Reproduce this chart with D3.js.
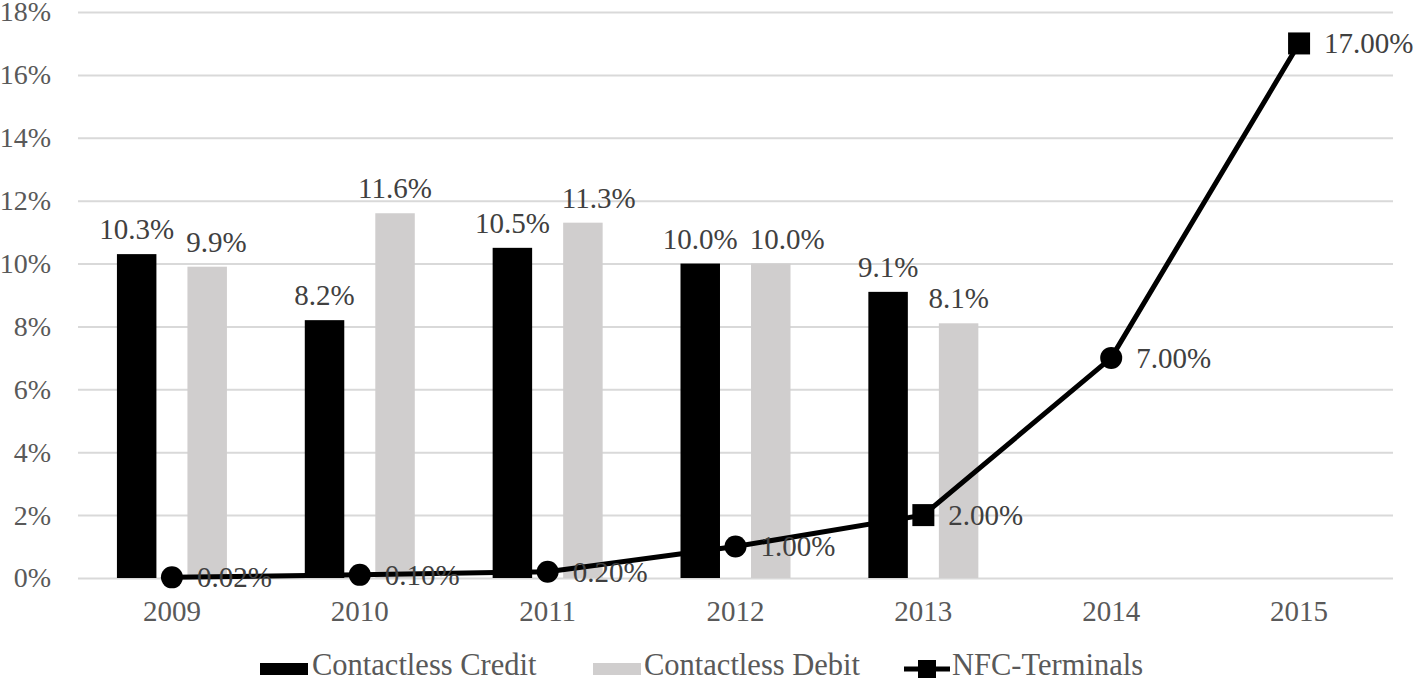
<!DOCTYPE html>
<html>
<head>
<meta charset="utf-8">
<script src="https://cdn.jsdelivr.net/npm/d3@7"></script>
<style>
  html, body { margin: 0; padding: 0; background: #fff; }
  svg { display: block; }
  svg text { font-family: "Liberation Serif", "Times New Roman", serif !important; }
</style>
</head>
<body>
<svg id="chart" width="1413" height="681"></svg>
<script>
// ---- data ----
const years = ["2009", "2010", "2011", "2012", "2013", "2014", "2015"];
const creditValues = [10.3, 8.2, 10.5, 10.0, 9.1, null, null];
const debitValues = [9.9, 11.6, 11.3, 10.0, 8.1, null, null];
const nfcValues = [0.02, 0.10, 0.20, 1.00, 2.00, 7.00, 17.00];
const nfcMarkers = ["circle", "circle", "circle", "circle", "square", "circle", "square"];
const yTicks = [0, 2, 4, 6, 8, 10, 12, 14, 16, 18];
const seriesNames = ["Contactless Credit", "Contactless Debit", "NFC-Terminals"];

// ---- layout ----
const svg = d3.select("#chart");
const W = 1413, H = 681;
const plotLeft = 78, plotRight = 1393, plotTop = 12, plotBottom = 578;
const axisColor = "#595959", labelColor = "#404040";
const creditColor = "#000000", debitColor = "#d0cece";
const FONT = "'Liberation Serif', 'Times New Roman', serif";
const FS = 29, AXFS = 28, LEGFS = 30.5;

svg.append("rect").attr("width", W).attr("height", H).attr("fill", "#fff");

const x = d3.scaleBand().domain(years).range([plotLeft, plotRight]).padding(0);
const y = d3.scaleLinear().domain([0, 18]).range([plotBottom, plotTop]);
const xc = d => x(d) + x.bandwidth() / 2;
const sub = d3.scaleBand().domain(["credit", "debit"]).range([-55, 55]).paddingInner(0.44).paddingOuter(0);

// gridlines + y labels
const yAxis = d3.axisLeft(y).tickValues(yTicks).tickSize(-(plotRight - plotLeft)).tickPadding(27)
  .tickFormat(d => d + "%");
const gy = svg.append("g").attr("transform", `translate(${plotLeft},0)`).call(yAxis)
  .attr("font-family", FONT);
gy.select(".domain").remove();
gy.selectAll(".tick line").attr("stroke", "#d9d9d9").attr("stroke-width", 2);
gy.selectAll(".tick text").attr("fill", axisColor).attr("font-size", AXFS)
  .attr("dy", "0.32em");

// x axis labels
const xAxis = d3.axisBottom(x).tickSize(0).tickPadding(22);
const gx = svg.append("g").attr("transform", `translate(0,${plotBottom})`).call(xAxis)
  .attr("font-family", FONT);
gx.select(".domain").remove();
gx.selectAll(".tick text").attr("fill", axisColor).attr("font-size", FS);

// bars
const barData = [];
years.forEach((yr, i) => {
  if (creditValues[i] != null) barData.push({ yr, key: "credit", v: creditValues[i] });
  if (debitValues[i] != null) barData.push({ yr, key: "debit", v: debitValues[i] });
});
const gBars = svg.append("g").attr("font-family", FONT);
gBars.selectAll("rect").data(barData).join("rect")
  .attr("x", d => xc(d.yr) + sub(d.key))
  .attr("width", sub.bandwidth())
  .attr("y", d => y(d.v))
  .attr("height", d => y(0) - y(d.v))
  .attr("fill", d => d.key === "credit" ? creditColor : debitColor);

const barLabels = gBars.selectAll("text").data(barData).join("text")
  .attr("x", d => xc(d.yr) + sub(d.key) + sub.bandwidth() / 2)
  .attr("y", d => y(d.v) - 15)
  .attr("text-anchor", "middle")
  .attr("font-size", FS)
  .attr("fill", labelColor)
  .text(d => d.v.toFixed(1) + "%");

// nudge debit labels right when they collide with the credit label of the same year
const labelNodes = barLabels.nodes();
years.forEach(yr => {
  const c = labelNodes.find(n => n.__data__.yr === yr && n.__data__.key === "credit");
  const dn = labelNodes.find(n => n.__data__.yr === yr && n.__data__.key === "debit");
  if (!c || !dn) return;
  const cb = c.getBBox(), db = dn.getBBox();
  const vOverlap = Math.abs(cb.y - db.y) < cb.height * 0.8;
  const gap = 12;
  if (vOverlap && db.x < cb.x + cb.width + gap) {
    const shift = cb.x + cb.width + gap - db.x;
    dn.setAttribute("x", +dn.getAttribute("x") + shift);
  }
});

// NFC line
const nfcData = years.map((yr, i) => ({ yr, v: nfcValues[i], m: nfcMarkers[i] }));
const line = d3.line().x(d => xc(d.yr)).y(d => y(d.v));
svg.append("path").datum(nfcData).attr("d", line)
  .attr("fill", "none").attr("stroke", "#000").attr("stroke-width", 5)
  .attr("stroke-linejoin", "round");

const gM = svg.append("g").attr("font-family", FONT);
gM.selectAll("path").data(nfcData).join("path")
  .attr("transform", d => `translate(${xc(d.yr)},${y(d.v)})`)
  .attr("d", d => d3.symbol().type(d.m === "square" ? d3.symbolSquare : d3.symbolCircle)
    .size(d.m === "square" ? 484 : Math.PI * 11 * 11)())
  .attr("fill", "#000");

gM.selectAll("text").data(nfcData).join("text")
  .attr("x", d => xc(d.yr) + 25)
  .attr("y", d => y(d.v))
  .attr("dy", "0.34em")
  .attr("font-size", FS)
  .attr("fill", labelColor)
  .text(d => d.v.toFixed(2) + "%");

// legend
const gL = svg.append("g").attr("font-family", FONT);
const legY = 669;
gL.append("rect").attr("x", 260).attr("y", legY - 6).attr("width", 48).attr("height", 12).attr("fill", creditColor);
gL.append("text").attr("x", 312).attr("y", 675).attr("font-size", LEGFS).attr("fill", axisColor).text(seriesNames[0]);
gL.append("rect").attr("x", 593).attr("y", legY - 6).attr("width", 48).attr("height", 12).attr("fill", debitColor);
gL.append("text").attr("x", 644).attr("y", 675).attr("font-size", LEGFS).attr("fill", axisColor).text(seriesNames[1]);
gL.append("line").attr("x1", 904).attr("x2", 950).attr("y1", legY).attr("y2", legY)
  .attr("stroke", "#000").attr("stroke-width", 5);
gL.append("path").attr("transform", `translate(927,${legY})`)
  .attr("d", d3.symbol().type(d3.symbolSquare).size(324)()).attr("fill", "#000");
gL.append("text").attr("x", 952).attr("y", 675).attr("font-size", LEGFS).attr("fill", axisColor).text(seriesNames[2]);
</script>
</body>
</html>
